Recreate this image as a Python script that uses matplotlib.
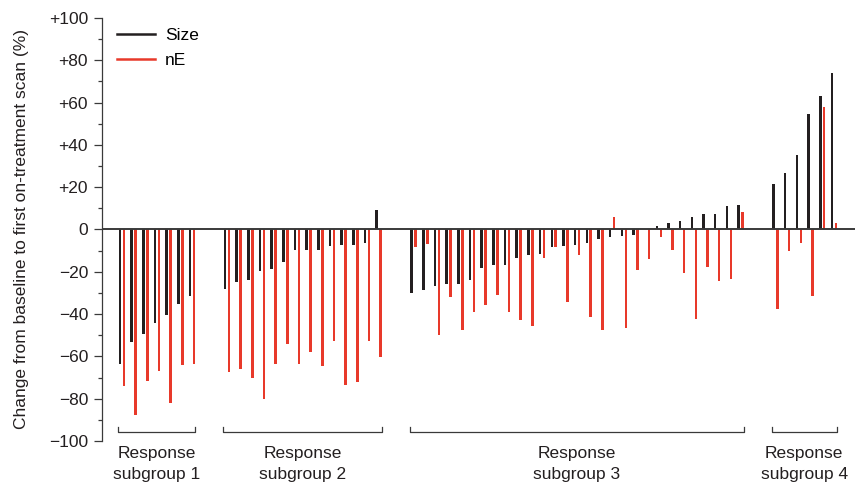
"""
Waterfall of size vs nE change, split by response subgroup.
"""

import matplotlib
matplotlib.use("Agg")

import matplotlib.pyplot as plt
import numpy as np
from matplotlib.ticker import FixedLocator, MultipleLocator

plt.rcParams["font.family"] = ["Liberation Sans", "DejaVu Sans"]

BLACK = "#231f20"
RED = "#e8392a"
TEXT = "#231f20"
FS = 12.5

GROUP_LABELS = ["Response\nsubgroup 1", "Response\nsubgroup 2",
                "Response\nsubgroup 3", "Response\nsubgroup 4"]

SIZE_G1 = [-63.5, -53, -49.5, -44, -40.5, -35, -31.5]
NE_G1 = [-74, -87.5, -71.5, -67, -82, -64, -63.5]

SIZE_G2 = [-28, -25, -24, -19.5, -18.5, -15.5, -9.5, -9.5, -9.5, -8, -7.5, -7.5, -6.5, 9]
NE_G2 = [-67.5, -66, -70, -80, -63.5, -54, -63.5, -58, -64.5, -52.5, -73.5, -72, -52.5, -60.5]

SIZE_G3 = [-30, -28.5, -26.5, -26, -26, -24, -18, -17, -17, -13.5, -12, -11.5, -8.5, -8, -7.5,
           -6.5, -4.5, -3.5, -3, -2.5, 0, 1.5, 3, 4, 6, 7.5, 7.5, 11, 11.5]
NE_G3 = [-8.5, -7, -50, -32, -47.5, -39, -35.5, -31, -39, -43, -45.5, -13.5, -8.5, -34.5, -12,
         -41.5, -47.5, 6, -46.5, -19, -14, -3.5, -9.5, -20.5, -42.5, -17.5, -24.5, -23.5, 8.5]

SIZE_G4 = [21.5, 26.5, 35, 54.5, 63, 74]
NE_G4 = [-37.5, -10, -6.5, -31.5, 58, 3]

GROUPS = [(SIZE_G1, NE_G1), (SIZE_G2, NE_G2), (SIZE_G3, NE_G3), (SIZE_G4, NE_G4)]

GAP = 3          # slots between last bar of one group and first of next
OFFSET = 0.34    # red bar shift from black bar
WIDTH = 0.22


def main() -> None:
    fig = plt.figure(figsize=(8.55, 4.83), dpi=100)
    ax = fig.add_axes([0.1193, 0.087, 0.8807, 0.8757])

    start = 0
    spans = []
    for size, ne in GROUPS:
        x = np.arange(len(size)) + start
        ax.bar(x, size, WIDTH, color=BLACK, linewidth=0, zorder=2)
        ax.bar(x + OFFSET, ne, WIDTH, color=RED, linewidth=0, zorder=2)
        spans.append((x[0] - 0.17, x[-1] + 0.43))
        start = x[-1] + GAP

    ax.axhline(0, color="#3a3a3a", linewidth=1.4, zorder=3)

    # brackets and subgroup labels
    for (x0, x1), label in zip(spans, GROUP_LABELS):
        ax.plot([x0, x0, x1, x1], [-93.3, -95.8, -95.8, -93.3], color="#3a3a3a",
                linewidth=0.9, clip_on=False)
        ax.text((x0 + x1) / 2, -102.5, label, ha="center", va="top", fontsize=FS,
                color=TEXT, linespacing=1.45, clip_on=False)

    ax.set_xlim(-1.54, 62.98)
    ax.set_ylim(-100, 100)

    ticks = list(range(-100, 101, 20))
    ax.yaxis.set_major_locator(FixedLocator(ticks))
    ax.set_yticklabels([f"+{t}" if t > 0 else ("0" if t == 0 else f"\u2212{-t}") for t in ticks])
    ax.yaxis.set_minor_locator(MultipleLocator(10))
    ax.tick_params(axis="y", which="major", length=6, width=0.9, color="#3a3a3a",
                   labelsize=FS, labelcolor=TEXT, pad=4)
    ax.tick_params(axis="y", which="minor", length=3, width=0.9, color="#3a3a3a")
    ax.set_xticks([])

    for side in ("top", "right", "bottom"):
        ax.spines[side].set_visible(False)
    ax.spines["left"].set_color("#3a3a3a")
    ax.spines["left"].set_linewidth(0.9)

    ax.set_ylabel("Change from baseline to first on-treatment scan (%)", fontsize=FS,
                  color=TEXT, labelpad=14)

    handles = [plt.Line2D([], [], color=BLACK, linewidth=1.8),
               plt.Line2D([], [], color=RED, linewidth=1.8)]
    ax.legend(handles, ["Size", "nE"], loc="upper left", bbox_to_anchor=(0.004, 1.005),
              frameon=False, fontsize=FS, handlelength=2.2, handletextpad=0.55,
              labelspacing=0.55, borderaxespad=0.3)

    fig.savefig("out.png", dpi=100)
    plt.close(fig)


if __name__ == "__main__":
    main()
